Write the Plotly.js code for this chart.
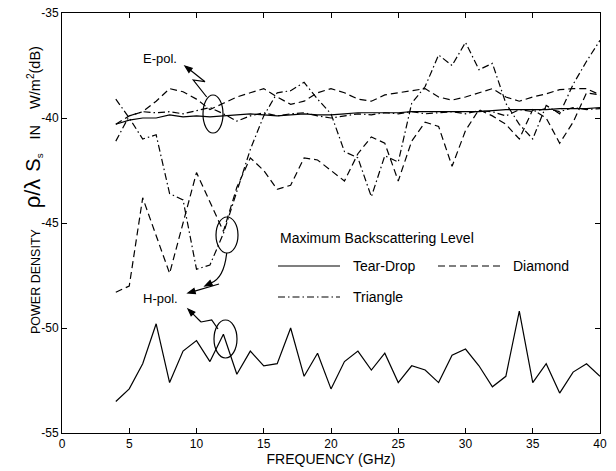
<!DOCTYPE html>
<html>
<head>
<meta charset="utf-8">
<script src="https://cdn.plot.ly/plotly-3.0.1.min.js"></script>
<style>html,body{margin:0;padding:0;background:#fff;}#chart{width:616px;height:471px;}</style>
</head>
<body>
<div id="chart"></div>
<script>
// Frequency (GHz)
const freq = [4,5,6,7,8,9,10,11,12,13,14,15,16,17,18,19,20,21,22,23,24,25,26,27,28,29,30,31,32,33,34,35,36,37,38,39,40];

// E-polarisation
const ePolTearDrop = [-40.3,-40.1,-40.0,-40.0,-39.85,-39.95,-39.9,-39.95,-39.9,-39.85,-39.8,-39.85,-39.9,-39.85,-39.8,-39.85,-39.85,-39.8,-39.75,-39.75,-39.75,-39.75,-39.7,-39.7,-39.7,-39.7,-39.7,-39.7,-39.65,-39.6,-39.6,-39.6,-39.6,-39.55,-39.55,-39.55,-39.5];
const ePolDiamond  = [-40.3,-39.9,-39.7,-39.2,-38.6,-38.75,-39.1,-39.6,-39.3,-39.0,-38.8,-38.6,-39.0,-39.35,-39.2,-38.8,-38.6,-38.8,-39.1,-39.2,-38.9,-38.8,-38.7,-38.6,-39.0,-39.15,-39.0,-38.8,-38.6,-39.0,-39.2,-39.0,-38.85,-38.65,-38.6,-38.6,-38.9];
const ePolTriangle = [-41.1,-39.9,-39.7,-39.75,-39.7,-39.8,-39.65,-39.5,-39.8,-40.15,-39.9,-39.75,-39.9,-39.8,-39.75,-39.9,-40.0,-39.9,-39.8,-39.85,-39.75,-39.8,-39.7,-39.8,-39.75,-39.7,-39.8,-39.65,-39.7,-39.9,-39.6,-39.7,-39.55,-39.7,-39.5,-39.6,-39.55];

// H-polarisation
const hPolTearDrop = [-53.5,-52.9,-51.7,-49.8,-52.6,-51.1,-50.6,-51.6,-50.3,-52.2,-51.1,-51.8,-51.7,-50.0,-52.3,-51.2,-52.9,-51.6,-51.1,-52.0,-51.2,-52.6,-51.8,-52.0,-52.6,-51.3,-51.0,-51.8,-52.8,-52.3,-49.2,-52.6,-51.7,-53.1,-52.1,-51.7,-52.3];
const hPolDiamond  = [-48.3,-48.0,-43.8,-45.6,-47.4,-45.0,-42.6,-44.0,-45.4,-43.3,-41.9,-42.5,-43.4,-43.2,-41.9,-42.0,-42.5,-43.0,-41.7,-40.9,-41.2,-43.0,-41.1,-40.2,-40.4,-42.3,-40.6,-39.6,-39.9,-40.3,-41.0,-39.6,-40.0,-41.2,-40.2,-38.8,-38.9];
const hPolTriangle = [-39.1,-40.0,-41.0,-40.8,-43.6,-43.9,-47.2,-47.0,-45.5,-43.5,-41.5,-39.9,-38.8,-38.7,-38.3,-39.1,-39.8,-41.6,-41.9,-43.75,-41.8,-42.1,-39.3,-38.5,-37.0,-37.5,-36.4,-37.7,-37.4,-39.3,-40.3,-41.0,-39.4,-39.8,-38.4,-37.3,-36.3];

const xTicks = [0,5,10,15,20,25,30,35,40];
const yTicks = [-55,-50,-45,-40,-35];
const legendTitle = 'Maximum Backscattering Level';
const legendNames = ['Tear-Drop','Diamond','Triangle'];

const FONT = 'Liberation Sans, Arial, sans-serif';
const DASH = '7px,4px';
const DASHDOT = '7px,3px,1.5px,3px';
const LW = 1.2;

// pixel -> data helpers for annotation placement
const X = px => (px - 62) / 13.45;
const Y = py => -35 - (py - 13) / 21;

function tr(y, dash){
  return {x: freq, y: y, type:'scatter', mode:'lines', showlegend:false,
    line:{color:'#000', width:LW, dash:dash}, hoverinfo:'skip'};
}
const traces = [
  tr(ePolTearDrop,'solid'), tr(ePolDiamond,DASH), tr(ePolTriangle,DASHDOT),
  tr(hPolTearDrop,'solid'), tr(hPolDiamond,DASH), tr(hPolTriangle,DASHDOT)
];

function pathShape(pts, close){
  let d = pts.map((p,i)=>(i?'L ':'M ')+X(p[0])+' '+Y(p[1])).join(' ');
  if(close) d += ' Z';
  return {type:'path', xref:'x', yref:'y', path:d,
    line:{color:'#000', width:LW}, fillcolor: close ? '#000' : 'rgba(0,0,0,0)'};
}
// arrow from (fx,fy) to tip (tx,ty), pixel space
function arrowShapes(tx, ty, fx, fy, withShaft){
  const dx = tx-fx, dy = ty-fy, L = Math.hypot(dx,dy);
  const ux = dx/L, uy = dy/L, len = 7, w = 2.6;
  const bx = tx-ux*len, by = ty-uy*len;
  const head = pathShape([[tx,ty],[bx-uy*w, by+ux*w],[bx+uy*w, by-ux*w]], true);
  const out = [head];
  if(withShaft) out.push(pathShape([[fx,fy],[bx,by]], false));
  return out;
}

let shapes = [
  {type:'circle', xref:'x', yref:'y', x0:X(203), x1:X(223), y0:Y(95), y1:Y(133), line:{color:'#000', width:LW}},
  {type:'circle', xref:'x', yref:'y', x0:X(216), x1:X(238), y0:Y(217), y1:Y(253), line:{color:'#000', width:LW}},
  {type:'circle', xref:'x', yref:'y', x0:X(214), x1:X(237), y0:Y(320), y1:Y(358), line:{color:'#000', width:LW}},
  pathShape([[206.7,97],[193.3,80],[205,81.7]], false),
  {type:'path', xref:'x', yref:'y', path:`M ${X(226.7)} ${Y(253)} Q ${X(224)} ${Y(278)} ${X(211)} ${Y(283)}`, line:{color:'#000', width:LW}},
  pathShape([[218,329],[211.7,320],[201,322]], false),
  {type:'line', xref:'x', yref:'y', x0:X(278), x1:X(340), y0:Y(266), y1:Y(266), line:{color:'#000', width:LW}},
  {type:'line', xref:'x', yref:'y', x0:X(438), x1:X(502), y0:Y(266), y1:Y(266), line:{color:'#000', width:LW, dash:DASH}},
  {type:'line', xref:'x', yref:'y', x0:X(278), x1:X(340), y0:Y(297), y1:Y(297), line:{color:'#000', width:LW, dash:DASHDOT}}
];
shapes = shapes
  .concat(arrowShapes(185, 66, 205, 81.7, true))
  .concat(arrowShapes(205, 286, 212, 282.5, false))
  .concat(arrowShapes(188, 293, 219, 284, true))
  .concat(arrowShapes(188, 309, 201, 322, true));

function txt(px, py, t, size, anchor){
  return {x:X(px), y:Y(py), xref:'x', yref:'y', text:t, showarrow:false,
    xanchor:anchor||'left', yanchor:'middle', font:{family:FONT, size:size, color:'#000'}};
}

const NB = '\u00a0';
const yTitle = 'POWER' + NB + 'DENSITY' + NB.repeat(6) +
  '<span style="font-size:22px">ρ/λ</span>' + NB.repeat(2) +
  '<span style="font-size:20px">S</span><span style="font-size:14px"><sub>s</sub></span>' + NB.repeat(4) +
  '<span style="font-size:14.5px">IN' + NB.repeat(4) + 'W/m<sup>2</sup>(dB)</span>';

const annotations = [
  txt(141, 58, 'E-pol.', 13),
  txt(141, 298, 'H-pol.', 13),
  txt(278, 238, legendTitle, 14),
  txt(351, 266, legendNames[0], 14),
  txt(511, 266, legendNames[1], 14),
  txt(351, 297, legendNames[2], 14),
  {x:(33-62)/538, y:(433-190)/420, xref:'paper', yref:'paper', showarrow:false, textangle:-90,
   xanchor:'center', yanchor:'middle', text:yTitle,
   font:{family:FONT, size:12.5, color:'#000'}}
];

const axisCommon = {
  showgrid:false, zeroline:false, showline:true, linecolor:'#000', linewidth:1,
  mirror:'ticks', ticks:'inside', ticklen:5, tickcolor:'#000', tickwidth:1,
  tickfont:{family:FONT, size:12, color:'#000'}
};

const layout = {
  width:616, height:471,
  margin:{l:62, r:16, t:13, b:38},
  paper_bgcolor:'#fff', plot_bgcolor:'#fff',
  showlegend:false,
  xaxis: Object.assign({}, axisCommon, {range:[0,40], tickvals:xTicks, ticktext:xTicks.map(String),
    title:{text:'FREQUENCY (GHz)', font:{family:FONT, size:14, color:'#000'}, standoff:2}}),
  yaxis: Object.assign({}, axisCommon, {range:[-55,-35], tickvals:yTicks, ticktext:yTicks.map(String)}),
  shapes: shapes,
  annotations: annotations
};

Plotly.newPlot('chart', traces, layout, {staticPlot:true, displayModeBar:false});
</script>
</body>
</html>
